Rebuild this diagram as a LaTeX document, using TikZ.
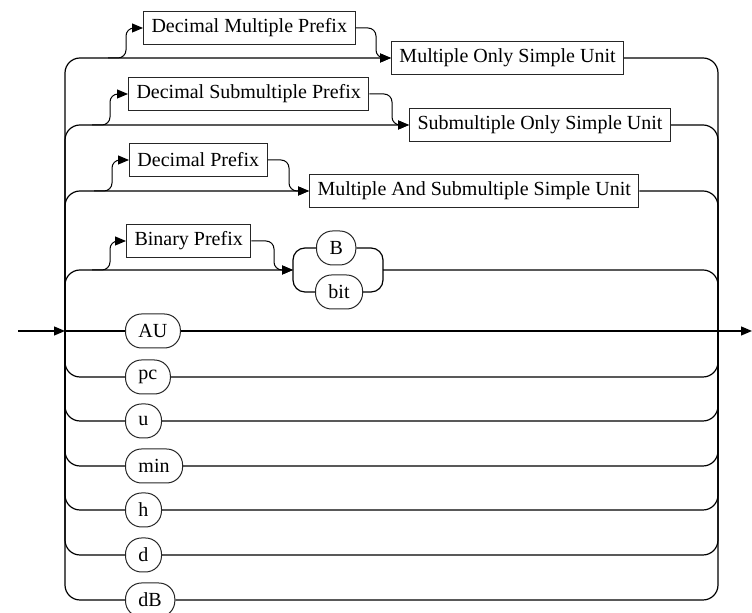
\documentclass[tikz,border=0pt]{standalone}
\usepackage{fontspec}
\setmainfont{Liberation Serif}
\usetikzlibrary{arrows.meta}

\begin{document}
\begin{tikzpicture}[
    x=0.5pt, y=-0.5pt,
    nonterm/.style={rectangle, draw=black!85, line width=0.5pt, minimum height=16.5pt,
                    inner xsep=4pt, inner ysep=0pt, anchor=west},
    term/.style={rectangle, rounded corners=8pt, draw=black!85, line width=0.5pt,
                 minimum height=17pt, minimum width=17.5pt, inner xsep=6.5pt, inner ysep=0pt, anchor=west},
    track/.style={line width=0.6pt, rounded corners=7.5pt},
    feed/.style={track, -{Triangle[length=5.5pt, width=4.5pt]}},
    bypass/.style={line width=0.5pt, rounded corners=4pt, -{Triangle[length=5.5pt, width=4.5pt]}},
    bracket/.style={line width=0.6pt, rounded corners=6pt}
]
\useasboundingbox (0,0) rectangle (752,613);

\node[nonterm] (DecMulPrefix) at (143,28) {Decimal Multiple Prefix};
\node[nonterm] (MultOnlyUnit) at (391,58) {Multiple Only Simple Unit};
\node[nonterm] (DecSubPrefix) at (128,94) {Decimal Submultiple Prefix};
\node[nonterm] (SubOnlyUnit) at (409,125) {Submultiple Only Simple Unit};
\node[nonterm] (DecPrefix) at (129,160) {Decimal Prefix};
\node[nonterm] (MultSubUnit) at (309,191) {Multiple And Submultiple Simple Unit};
\node[nonterm] (BinPrefix) at (126,241) {Binary Prefix};

\node[term] (B) at (316,248) {B};
\node[term] (Bit) at (315,292) {bit};
\node[term] (AU) at (125,331) {AU};
\node[term] (Pc) at (125,377) {pc};
\node[term] (U) at (125,421) {u};
\node[term] (Min) at (125,466) {min};
\node[term] (H) at (125,510) {h};
\node[term] (D) at (125,555) {d};
\node[term] (DB) at (125,600) {dB};

\coordinate (Start) at (18,331);
\coordinate (RailL) at (65,331);
\coordinate (RailR) at (718,331);
\coordinate (End) at (752,331);
\coordinate (ChoiceIn) at (293,270);
\coordinate (ChoiceOut) at (383,270);
\coordinate (Fork1) at (108,58);  \coordinate (Up1) at (126,28);  \coordinate (Down1) at (376,58);
\coordinate (Fork2) at (92,125);  \coordinate (Up2) at (110,94);  \coordinate (Down2) at (392,125);
\coordinate (Fork3) at (94,191);  \coordinate (Up3) at (112,160); \coordinate (Down3) at (289,191);
\coordinate (Fork4) at (92,270);  \coordinate (Up4) at (110,241); \coordinate (Down4) at (274,270);

% in and out
\draw[feed] (Start) -- (RailL);
\draw[feed] (RailR) -- (End);

% rows with a prefix
\draw[feed] (RailL) |- (MultOnlyUnit.west);
\draw[feed] (RailL) |- (SubOnlyUnit.west);
\draw[feed] (RailL) |- (MultSubUnit.west);
\draw[feed] (RailL) |- (ChoiceIn);
\draw[track] (MultOnlyUnit.east) -| (RailR);
\draw[track] (SubOnlyUnit.east) -| (RailR);
\draw[track] (MultSubUnit.east) -| (RailR);
\draw[track] (ChoiceOut) -| (RailR);

\draw[bypass] (Fork1) -| (Up1) -- (DecMulPrefix.west);
\draw[bypass] (DecMulPrefix.east) -| (Down1) -- (MultOnlyUnit.west);
\draw[bypass] (Fork2) -| (Up2) -- (DecSubPrefix.west);
\draw[bypass] (DecSubPrefix.east) -| (Down2) -- (SubOnlyUnit.west);
\draw[bypass] (Fork3) -| (Up3) -- (DecPrefix.west);
\draw[bypass] (DecPrefix.east) -| (Down3) -- (MultSubUnit.west);
\draw[bypass] (Fork4) -| (Up4) -- (BinPrefix.west);
\draw[bypass] (BinPrefix.east) -| (Down4) -- (ChoiceIn);

% B or bit
\draw[bracket] (B.west) -| (ChoiceIn);
\draw[bracket] (Bit.west) -| (ChoiceIn);
\draw[bracket] (B.east) -| (ChoiceOut);
\draw[bracket] (Bit.east) -| (ChoiceOut);

% plain units
\draw[track] (RailL) -- (AU.west);
\draw[track] (AU.east) -- (RailR);
\draw[track] (RailL) |- (Pc.west);
\draw[track] (Pc.east) -| (RailR);
\draw[track] (RailL) |- (U.west);
\draw[track] (U.east) -| (RailR);
\draw[track] (RailL) |- (Min.west);
\draw[track] (Min.east) -| (RailR);
\draw[track] (RailL) |- (H.west);
\draw[track] (H.east) -| (RailR);
\draw[track] (RailL) |- (D.west);
\draw[track] (D.east) -| (RailR);
\draw[track] (RailL) |- (DB.west);
\draw[track] (DB.east) -| (RailR);

\end{tikzpicture}
\end{document}
